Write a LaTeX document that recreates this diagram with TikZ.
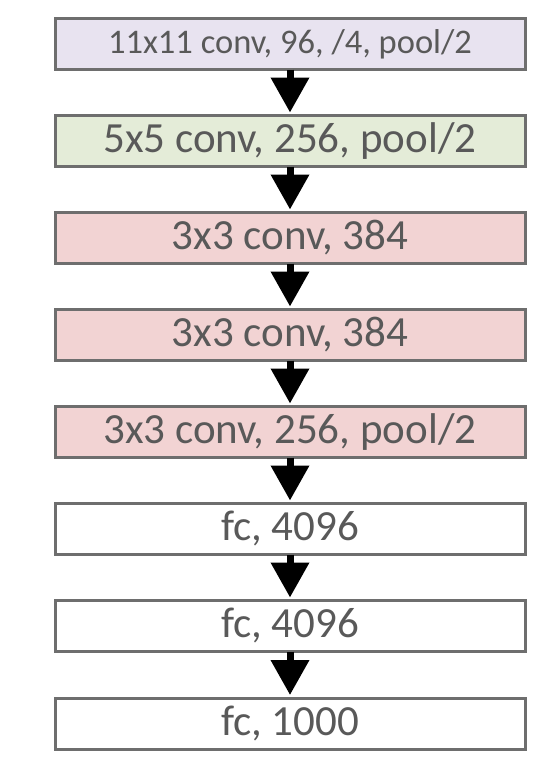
\documentclass[tikz,border=0pt]{standalone}
\usepackage{fontspec}
\setmainfont{Carlito}
\usetikzlibrary{arrows.meta}
\definecolor{lav}{HTML}{E8E3F0}
\definecolor{grn}{HTML}{E4ECD8}
\definecolor{pnk}{HTML}{F2D3D3}
\definecolor{bord}{HTML}{6E6E6E}
\definecolor{txt}{HTML}{595959}
\begin{document}
\begin{tikzpicture}[x=1pt,y=-1pt,
  layer/.style={draw=bord, line width=3pt, minimum width=470pt, minimum height=51pt,
    inner sep=0pt, text=txt, font=\fontsize{43}{43}\selectfont, anchor=center},
  flow/.style={line width=7pt, -{Triangle[width=37pt,length=35pt]}}]
\path[fill=white, use as bounding box] (0,0) rectangle (552,772);
\node[layer, fill=lav, font=\fontsize{34.5}{34.5}\selectfont] (l1) at (290,44) {11x11 conv, 96, /4, pool/2};
\node[layer, fill=grn] (l2) at (290,141) {5x5 conv, 256, pool/2};
\node[layer, fill=pnk] (l3) at (290,238) {3x3 conv, 384};
\node[layer, fill=pnk] (l4) at (290,335) {3x3 conv, 384};
\node[layer, fill=pnk] (l5) at (290,432) {3x3 conv, 256, pool/2};
\node[layer, fill=white] (l6) at (290,529) {fc, 4096};
\node[layer, fill=white] (l7) at (290,626) {fc, 4096};
\node[layer, fill=white] (l8) at (290,723.5) {fc, 1000};
\foreach \a/\b in {l1/l2,l2/l3,l3/l4,l4/l5,l5/l6,l6/l7,l7/l8}
  \draw[flow] ([yshift=1.5pt]\a.south) -- ([yshift=1.5pt]\b.north);
\end{tikzpicture}
\end{document}
